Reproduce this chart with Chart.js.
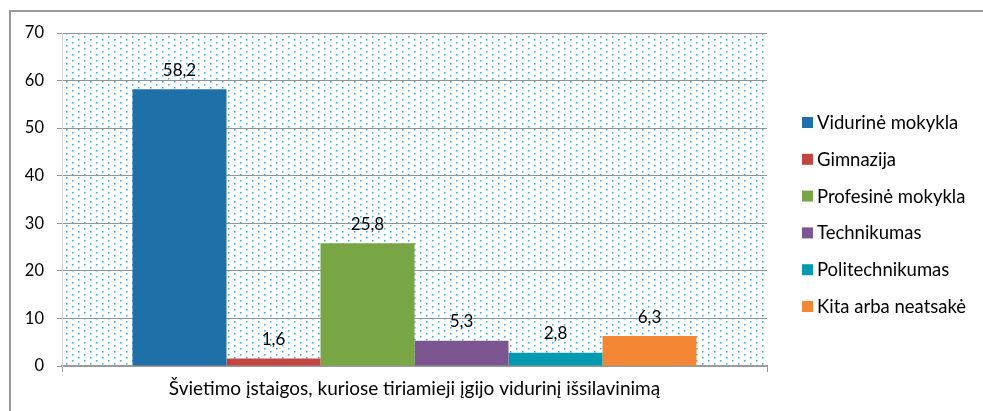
<!DOCTYPE html>
<html>
<head>
<meta charset="utf-8">
<script src="https://cdn.jsdelivr.net/npm/chart.js@4.4.1/dist/chart.umd.min.js"></script>
<style>
html,body{margin:0;padding:0;background:#ffffff;}
#wrap{width:983px;height:411px;}
</style>
</head>
<body>
<div id="wrap"><canvas id="c" width="983" height="411"></canvas></div>
<script>
// ---- data ----
const categories = ['Švietimo įstaigos, kuriose tiriamieji įgijo vidurinį išsilavinimą'];
const seriesNames = ['Vidurinė mokykla', 'Gimnazija', 'Profesinė mokykla', 'Technikumas', 'Politechnikumas', 'Kita arba neatsakė'];
const seriesValues = [58.2, 1.6, 25.8, 5.3, 2.8, 6.3];
const seriesColors = ['#1F6FA8', '#C44442', '#79A645', '#7B5690', '#0599B0', '#F48733'];
const yTickValues = [0, 10, 20, 30, 40, 50, 60, 70];

const FONT = 'Lato';
const fmt = v => v.toFixed(1).replace('.', ',');

const datasets = seriesNames.map((name, i) => ({
  label: name,
  data: [seriesValues[i]],
  backgroundColor: seriesColors[i],
  borderWidth: 0,
  categoryPercentage: 0.8,
  barPercentage: 1.0
}));

// dotted pattern for plot area
function makePattern(ctx) {
  const p = document.createElement('canvas');
  p.width = 12; p.height = 6;
  const pc = p.getContext('2d');
  pc.fillStyle = '#ffffff';
  pc.fillRect(0, 0, 12, 6);
  const dot = (x, y) => {
    pc.fillStyle = '#4aa7dc'; pc.fillRect(x, y, 1, 1);
    pc.fillStyle = '#8fd0f0'; pc.fillRect(x + 1, y, 1, 1); pc.fillRect(x, y + 1, 1, 1);
    pc.fillStyle = '#c8e9f8'; pc.fillRect(x + 1, y + 1, 1, 1);
  };
  dot(0, 0);
  dot(6, 3);
  return ctx.createPattern(p, 'repeat');
}

const bgPlugin = {
  id: 'bgPlugin',
  beforeDraw(chart) {
    const {ctx, chartArea: a} = chart;
    ctx.save();
    ctx.fillStyle = '#ffffff';
    ctx.fillRect(0, 0, chart.width, chart.height);
    // outer frame (left and top visible)
    ctx.strokeStyle = '#9a9a9a';
    ctx.lineWidth = 2;
    ctx.beginPath();
    ctx.moveTo(10, chart.height + 2);
    ctx.lineTo(10, 11);
    ctx.lineTo(chart.width + 2, 11);
    ctx.stroke();
    // plot area pattern
    ctx.fillStyle = makePattern(ctx);
    ctx.fillRect(a.left, a.top, a.right - a.left, a.bottom - a.top);
    ctx.restore();
  }
};

const labelPlugin = {
  id: 'labelPlugin',
  afterDatasetsDraw(chart) {
    const {ctx} = chart;
    ctx.save();
    ctx.font = '17px ' + FONT;
    ctx.fillStyle = '#000000';
    ctx.textAlign = 'center';
    ctx.textBaseline = 'middle';
    chart.data.datasets.forEach((ds, i) => {
      const meta = chart.getDatasetMeta(i);
      meta.data.forEach((bar, j) => {
        ctx.fillText(fmt(ds.data[j]), bar.x, bar.y - 19);
      });
    });
    ctx.restore();
  }
};

const legendPlugin = {
  id: 'legendPlugin',
  afterDraw(chart) {
    const {ctx} = chart;
    ctx.save();
    ctx.font = '18.5px ' + FONT;
    ctx.textAlign = 'left';
    ctx.textBaseline = 'middle';
    const x0 = chart.chartArea.right + 35;
    const y0 = 122;
    const step = 36.8;
    chart.data.datasets.forEach((ds, i) => {
      const y = y0 + i * step;
      ctx.fillStyle = ds.backgroundColor;
      ctx.fillRect(x0, y - 5, 11, 11);
      ctx.fillStyle = '#000000';
      ctx.fillText(ds.label, x0 + 15, y + 1);
    });
    ctx.restore();
  }
};

new Chart(document.getElementById('c'), {
  type: 'bar',
  data: { labels: categories, datasets: datasets },
  options: {
    responsive: false,
    animation: false,
    devicePixelRatio: 1,
    layout: { padding: { left: 10, top: 33, right: 216, bottom: 0 } },
    plugins: {
      legend: { display: false },
      tooltip: { enabled: false }
    },
    scales: {
      x: {
        grid: { display: true, drawOnChartArea: false, tickLength: 6, color: '#9a9a9a', offset: true },
        border: { display: true, color: '#9a9a9a', width: 2 },
        ticks: { font: { family: FONT, size: 19 }, color: '#000000', padding: 5 },
        afterFit(s) { s.height = 45; }
      },
      y: {
        min: 0, max: 70,
        afterBuildTicks(s) { s.ticks = yTickValues.map(v => ({ value: v })); },
        ticks: { font: { family: FONT, size: 16.5 }, color: '#000000', padding: 13 },
        grid: { color: '#939393', lineWidth: 1, tickLength: 5 },
        border: { display: true, color: '#d4d4d4', width: 1 },
        afterFit(s) { s.width = 52; }
      }
    }
  },
  plugins: [bgPlugin, labelPlugin, legendPlugin]
});
</script>
</body>
</html>
